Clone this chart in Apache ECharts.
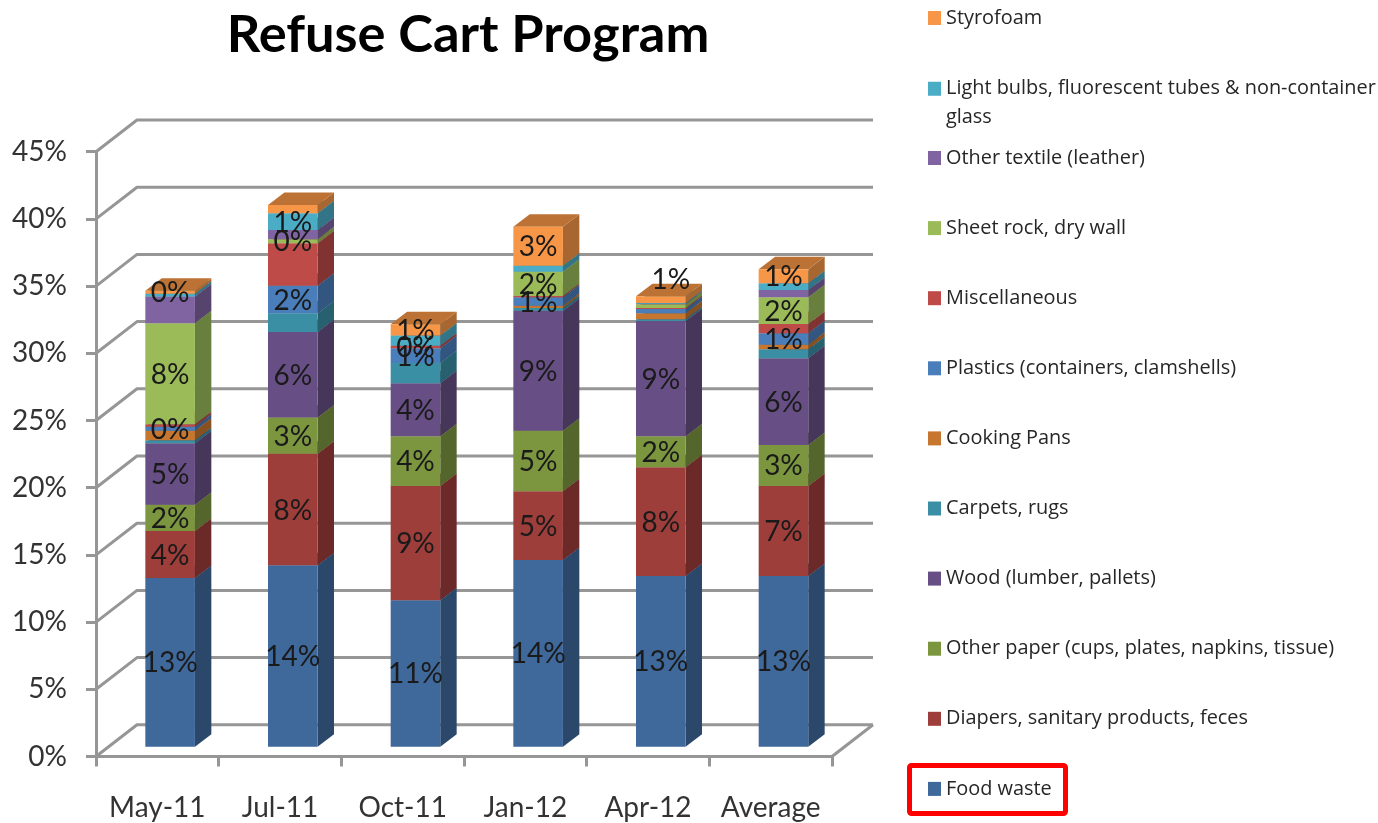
<!DOCTYPE html>
<html>
<head>
<meta charset="utf-8">
<style>html,body{margin:0;padding:0;background:#fff}#c{width:1378px;height:823px;filter:blur(0.5px)}</style>
<script src="https://cdn.jsdelivr.net/npm/echarts@6/dist/echarts.min.js"></script>
</head>
<body>
<div id="c"></div>
<script>
const categories = ['May-11','Jul-11','Oct-11','Jan-12','Apr-12','Average'];
const yTicks = [0,5,10,15,20,25,30,35,40,45];

const foodWaste = [12.55,13.5,10.9,13.9,12.7,12.7];
const diapers = [3.5,8.3,8.5,5.1,8.1,6.7];
const otherPaper = [1.95,2.7,3.7,4.5,2.3,3.05];
const wood = [4.57,6.35,3.94,8.94,8.57,6.45];
const carpets = [0.23,1.4,1.5,0.2,0.13,0.67];
const cookingPans = [0.7,0,0,0.17,0.45,0.33];
const plastics = [0.3,2.05,1.1,0.63,0.32,0.86];
const miscellaneous = [0.2,3.15,0.2,0.1,0.07,0.69];
const sheetRock = [7.5,0.3,0,1.8,0.28,1.99];
const otherTextile = [2.0,0.7,0,0,0.04,0.54];
const lightBulbs = [0.2,1.25,0.75,0.45,0.05,0.5];
const styrofoam = [0.23,0.6,0.85,2.9,0.5,1.04];

const foodWasteLabels = ['13%','14%','11%','14%','13%','13%'];
const diapersLabels = ['4%','8%','9%','5%','8%','7%'];
const otherPaperLabels = ['2%','3%','4%','5%','2%','3%'];
const woodLabels = ['5%','6%','4%','9%','9%','6%'];
const plasticsLabels = ['0%','2%','1%','1%','','1%'];
const miscLabels = ['','','0%','','',''];
const sheetRockLabels = ['8%','0%','','2%','','2%'];
const lightBulbsLabels = ['','1%','','','',''];
const styrofoamLabels = ['0%','','1%','3%','1%','1%'];
const noLabels = ['','','','','',''];

const seriesNames = ['Food waste','Diapers, sanitary products, feces','Other paper (cups, plates, napkins, tissue)','Wood (lumber, pallets)','Carpets, rugs','Cooking Pans','Plastics (containers, clamshells)','Miscellaneous','Sheet rock, dry wall','Other textile (leather)','Light bulbs, fluorescent tubes & non-container glass','Styrofoam'];
const seriesValues = [foodWaste,diapers,otherPaper,wood,carpets,cookingPans,plastics,miscellaneous,sheetRock,otherTextile,lightBulbs,styrofoam];
const seriesLabels = [foodWasteLabels,diapersLabels,otherPaperLabels,woodLabels,noLabels,noLabels,plasticsLabels,miscLabels,sheetRockLabels,noLabels,lightBulbsLabels,styrofoamLabels];
const seriesColors = ['#3F689B','#9E3E3B','#7C9640','#674F85','#3A8FA5','#C6762F','#4A7EBB','#BE4B48','#9BBB59','#8064A2','#4BACC6','#F79646'];

const GRAY = '#969696';
const TEXT = '#333';
const FONT = 'Lato';
const WALL_DX = 41, WALL_DY = 31.7;   // depth of the chart box
const BAR_DX = 12.8, BAR_DY = 9.8;    // bar position inside the box
const BAR_W = 49.6, DEPTH_X = 16.4, DEPTH_Y = 12.5;

function shade(hex, f) {
  const n = parseInt(hex.slice(1), 16);
  const ch = v => Math.round(v * f);
  return 'rgb(' + ch(n >> 16) + ',' + ch((n >> 8) & 255) + ',' + ch(n & 255) + ')';
}

const running = categories.map(() => 0);
const barSeries = seriesNames.map((name, s) => {
  const data = categories.map((c, i) => {
    const start = running[i];
    running[i] += seriesValues[s][i];
    return [i, start, running[i], seriesLabels[s][i]];
  });
  return {
    type: 'custom', name, data, z: 3,
    itemStyle: {color: seriesColors[s]},
    encode: {x: 0, y: [1, 2]},
    renderItem(params, api) {
      const i = api.value(0), v0 = api.value(1), v1 = api.value(2);
      const color = seriesColors[s];
      const p0 = api.coord([i, v0]), p1 = api.coord([i, v1]);
      const xl = p0[0] + BAR_DX - BAR_W / 2, xr = xl + BAR_W;
      const yb = p0[1] - BAR_DY, yt = p1[1] - BAR_DY;
      const children = [];
      if (v1 > v0) {
        children.push({type:'polygon', shape:{points:[[xr,yb],[xr+DEPTH_X,yb-DEPTH_Y],[xr+DEPTH_X,yt-DEPTH_Y],[xr,yt]]}, style:{fill:shade(color,0.68)}, silent:true});
        children.push({type:'polygon', shape:{points:[[xl,yt],[xl+DEPTH_X,yt-DEPTH_Y],[xr+DEPTH_X,yt-DEPTH_Y],[xr,yt]]}, style:{fill:shade(color,0.76)}, silent:true});
        children.push({type:'rect', shape:{x:xl,y:yt,width:BAR_W,height:yb-yt}, style:{fill:color}, silent:true});
      }
      const label = seriesLabels[s][i];
      if (label) {
        const lifted = (s === 11 && i === 4);
        children.push({type:'text', z2:100, silent:true, style:{
          text:label, x:xl+BAR_W/2+(lifted?10:0), y:(yb+yt)/2+(lifted?-20:1),
          align:'center', verticalAlign:'middle', fill:'#1a1a1a',
          font:'28px '+FONT}});
      }
      return {type:'group', children};
    }
  };
});

const wallSeries = {
  type: 'custom', name: 'walls', z: 1, silent: true,
  data: yTicks.map(t => [0, t]),
  encode: {x: 0, y: 1},
  renderItem(params, api) {
    const y = api.coord([0, api.value(1)])[1];
    const x0 = params.coordSys.x, x1 = x0 + params.coordSys.width;
    const stroke = {stroke: GRAY, lineWidth: 3, fill: 'none', lineJoin: 'round'};
    const kids = [{type:'polyline', shape:{points:[[x0,y],[x0+WALL_DX,y-WALL_DY],[x1+WALL_DX,y-WALL_DY]]}, style:stroke}];
    if (api.value(1) === 0) kids.push({type:'polyline', shape:{points:[[x1,y],[x1+WALL_DX,y-WALL_DY]]}, style:stroke});
    return {type:'group', children:kids};
  }
};

const legendText = {fontFamily:'Open Sans', fontSize:19.9, color:'#262626'};
const legendBase = {orient:'vertical', left:928, itemWidth:13, itemHeight:14, icon:'rect', itemGap:0, padding:0, selectedMode:false, textStyle:legendText, inactiveColor:'#333'};
const legendNames = seriesNames.slice().reverse();
const wrapped = 'Light bulbs, fluorescent tubes & non-container glass';

const chart = echarts.init(document.getElementById('c'), null, {renderer:'canvas'});
chart.setOption({
  animation:false,
  backgroundColor:'#fff',
  color:seriesColors,
  title:{text:'Refuse Cart Program', left:463, top:4, textAlign:'center',
    textStyle:{fontFamily:FONT, fontSize:52.4, fontWeight:'bold', color:'#000'}},
  legend:[
    Object.assign({}, legendBase, {top:8, data:['Styrofoam']}),
    Object.assign({}, legendBase, {top:46, data:[wrapped],
      formatter:()=>'\nLight bulbs, fluorescent tubes & non-container\nglass',
      textStyle:Object.assign({}, legendText, {lineHeight:28.5})}),
    Object.assign({}, legendBase, {top:148, itemGap:50.1, data:legendNames.slice(2)})
  ],
  grid:{left:96, top:151.7, width:736, height:604.8, containLabel:false},
  xAxis:{type:'category', data:categories, boundaryGap:true,
    axisLine:{lineStyle:{color:GRAY,width:3}},
    axisTick:{show:true,length:10,lineStyle:{color:GRAY,width:3}},
    axisLabel:{fontFamily:FONT,fontSize:28,color:TEXT,margin:37,interval:0},
    splitLine:{show:false}},
  yAxis:{type:'value', min:0, max:45, interval:5,
    axisLine:{show:true,lineStyle:{color:GRAY,width:3}},
    axisTick:{show:true,length:10,lineStyle:{color:GRAY,width:3}},
    axisLabel:{fontFamily:FONT,fontSize:28,color:TEXT,margin:29,formatter:'{value}%'},
    splitLine:{show:false}},
  graphic:[{type:'rect', left:907, top:763, z:50, shape:{width:156,height:48,r:2},
    style:{fill:'none',stroke:'#ff0000',lineWidth:5}, silent:true}],
  series:[wallSeries].concat(barSeries)
});
</script>
</body>
</html>
